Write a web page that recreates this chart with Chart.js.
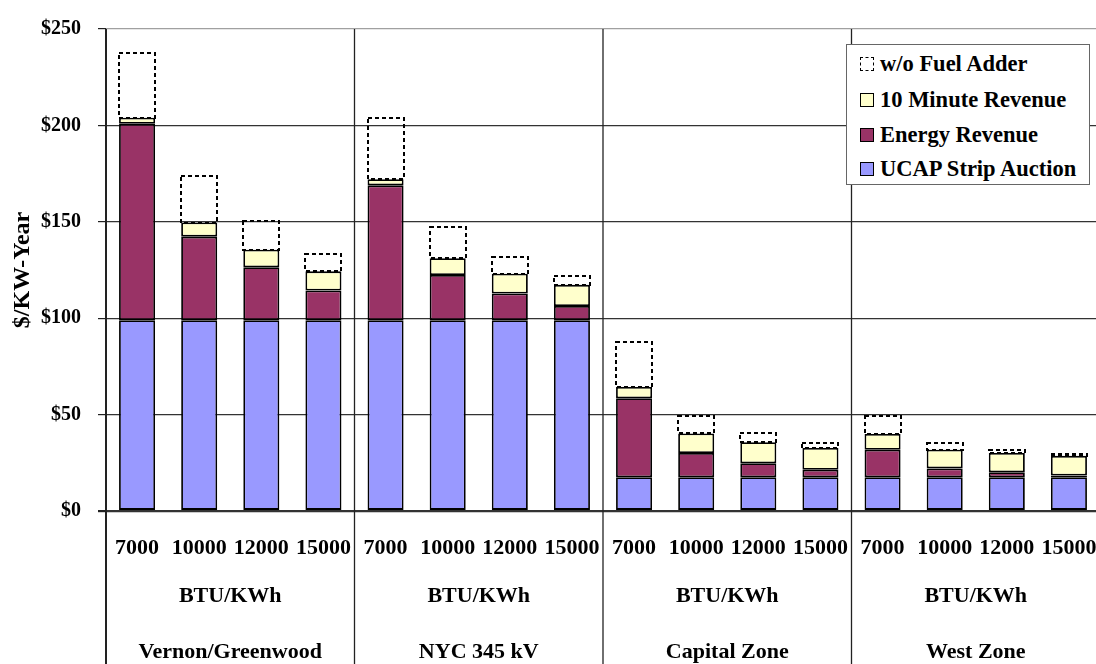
<!DOCTYPE html>
<html>
<head>
<meta charset="utf-8">
<title>Revenue by Heat Rate and Zone</title>
<script src="https://cdn.jsdelivr.net/npm/chart.js@4.4.1/dist/chart.umd.min.js"></script>
<style>
  html, body { margin: 0; padding: 0; overflow: hidden; background: #fff; }
  #wrap { position: relative; width: 1100px; height: 664px; }
  #legend {
    position: absolute; left: 846px; top: 44px; width: 242px; height: 139px;
    border: 1.5px solid #666; background: #fff;
    font: bold 22.5px "Liberation Serif", "Times New Roman", serif; color: #000;
  }
  .row { position: absolute; left: 13px; height: 26px; line-height: 26px; white-space: nowrap; }
  .sw { display: inline-block; width: 12px; height: 12px; border: 1.8px solid #000;
        vertical-align: middle; margin-right: 6px; position: relative; top: -2px; }
  .sw.dash { border: 1.5px dashed #000; background: #fff; }
</style>
</head>
<body>
<div id="wrap">
  <canvas id="c" width="1100" height="664"></canvas>
  <div id="legend"></div>
</div>
<script>
// Groups along the x axis and the heat rate of each bar
const zones = ['Vernon/Greenwood', 'NYC 345 kV', 'Capital Zone', 'West Zone'];
const heatRates = ['7000', '10000', '12000', '15000'];
const heatRateUnit = 'BTU/KWh';

// Y axis ($/KW-Year)
const yTickValues = [0, 50, 100, 150, 200, 250];

// Stacked components, $/KW-Year, one value per bar (zone x heat rate)
const ucapStripAuction = [99, 99, 99, 99,   99, 99, 99, 99,   17.5, 17.5, 17.5, 17.5,   17.5, 17.5, 17.5, 17.5];
const energyRevenue    = [101.8, 43.3, 27.4, 15.4,   69.9, 23.4, 13.8, 7.3,   41, 12.6, 7.3, 3.9,   14.3, 4.6, 2.6, 0.9];
const tenMinuteRevenue = [3.2, 7.3, 9.1, 9.9,   3.2, 8.7, 10.3, 11,   5.8, 10.1, 10.9, 11.3,   8.2, 9.7, 10, 10.2];
const fuelAdderGap     = [33.8, 24, 14.7, 8.9,   31.5, 16.2, 8.4, 4.8,   23.3, 9.1, 4.8, 2.5,   9.5, 3.4, 1.4, 1.0];

const seriesNames = ['UCAP Strip Auction', 'Energy Revenue', '10 Minute Revenue', 'w/o Fuel Adder'];
const seriesColors = ['#9999FF', '#993366', '#FFFFCC', 'rgba(0,0,0,0)'];

const categories = zones.flatMap(z => heatRates.map(h => z + ' ' + h));

const FONT = '"Liberation Serif", "Times New Roman", serif';
Chart.defaults.font.family = FONT;
Chart.defaults.color = '#000';

// Dashed outlines, group separators and the three-level category labels
const groupAxisPlugin = {
  id: 'groupAxis',
  afterDatasetsDraw(chart) {
    const ctx = chart.ctx;
    const meta = chart.getDatasetMeta(3);
    ctx.save();
    ctx.setLineDash([4, 3]);
    ctx.lineWidth = 2;
    ctx.strokeStyle = '#000';
    meta.data.forEach(bar => {
      const p = bar.getProps(['x', 'y', 'base', 'width'], true);
      const l = Math.round(p.x - p.width / 2), r = Math.round(p.x + p.width / 2);
      const t = Math.round(p.y), b = Math.round(p.base);
      ctx.strokeRect(l, t, r - l, b - t);
    });
    ctx.restore();
  },
  afterDraw(chart) {
    const ctx = chart.ctx;
    const xs = chart.scales.x;
    const area = chart.chartArea;
    const H = chart.height;
    ctx.save();
    // left axis line running down through the label rows
    ctx.strokeStyle = '#222';
    ctx.lineWidth = 2;
    ctx.beginPath();
    ctx.moveTo(area.left, area.top);
    ctx.lineTo(area.left, H);
    ctx.stroke();
    // separators between zones
    ctx.lineWidth = 1.3;
    for (let g = 1; g < zones.length; g++) {
      const x = (xs.getPixelForValue(g * 4 - 1) + xs.getPixelForValue(g * 4)) / 2;
      ctx.beginPath();
      ctx.moveTo(x, area.top);
      ctx.lineTo(x, H);
      ctx.stroke();
    }
    // labels
    ctx.fillStyle = '#000';
    ctx.textAlign = 'center';
    ctx.textBaseline = 'alphabetic';
    ctx.font = 'bold 22px ' + FONT;
    categories.forEach((c, i) => {
      ctx.fillText(heatRates[i % 4], xs.getPixelForValue(i), 554);
    });
    zones.forEach((z, g) => {
      const cx = (xs.getPixelForValue(g * 4) + xs.getPixelForValue(g * 4 + 3)) / 2;
      ctx.fillText(heatRateUnit, cx, 602);
      ctx.fillText(z, cx, 658);
    });
    ctx.restore();
  }
};

const datasets = [ucapStripAuction, energyRevenue, tenMinuteRevenue, fuelAdderGap].map((d, i) => ({
  label: seriesNames[i],
  data: d,
  backgroundColor: seriesColors[i],
  borderColor: '#000',
  borderWidth: i === 3 ? 0 : 1.8,
  borderSkipped: false,
  barPercentage: 0.58,
  categoryPercentage: 1
}));

new Chart(document.getElementById('c'), {
  type: 'bar',
  data: { labels: categories, datasets },
  options: {
    responsive: false,
    animation: false,
    layout: { padding: { top: 21, bottom: 153, left: 0, right: 0 } },
    plugins: { legend: { display: false }, tooltip: { enabled: false } },
    scales: {
      x: { stacked: true, display: false },
      y: {
        stacked: true,
        min: 0, max: 250,
        afterFit(scale) { scale.width = 106; },
        afterBuildTicks(scale) { scale.ticks = yTickValues.map(v => ({ value: v })); },
        border: { display: false },
        grid: {
          color: c => c.tick && c.tick.value === 250 ? '#a0a0a0' : '#333333',
          lineWidth: c => c.tick && c.tick.value === 0 ? 2.2 : 1.2,
          tickColor: '#222',
          tickLength: 8
        },
        ticks: {
          padding: 17,
          font: { size: 20, weight: 'bold' },
          color: '#000',
          callback: v => '$' + v
        },
        title: {
          display: true,
          text: '$/KW-Year',
          font: { size: 24, weight: 'bold' },
          color: '#000',
          padding: { top: 8, bottom: 0 }
        }
      }
    }
  },
  plugins: [groupAxisPlugin]
});

// Legend, listed top to bottom in reverse stacking order
const legend = document.getElementById('legend');
const rowTops = [6, 42, 77, 111];
[3, 2, 1, 0].forEach((k, r) => {
  const row = document.createElement('div');
  row.className = 'row';
  row.style.top = rowTops[r] + 'px';
  const sw = document.createElement('span');
  sw.className = 'sw' + (k === 3 ? ' dash' : '');
  if (k !== 3) sw.style.background = seriesColors[k];
  row.appendChild(sw);
  row.appendChild(document.createTextNode(seriesNames[k]));
  legend.appendChild(row);
});
</script>
</body>
</html>
